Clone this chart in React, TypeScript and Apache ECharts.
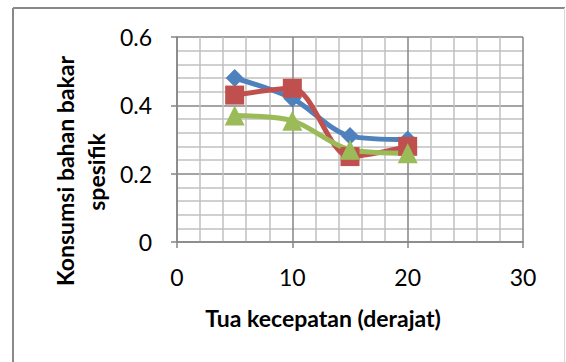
import React, { useEffect, useRef } from "react";
import * as echarts from "echarts";

const xValues = [5, 10, 15, 20];
const seriesBlue = [0.48, 0.42, 0.31, 0.3];
const seriesRed = [0.43, 0.45, 0.25, 0.28];
const seriesGreen = [0.37, 0.355, 0.27, 0.26];
const xTitle = "Tua kecepatan (derajat)";
const yTitleLines = ["Konsumsi bahan bakar", "spesifik"];

const FONT = "Lato, 'Liberation Sans', sans-serif";

export default function App() {
  const ref = useRef<HTMLDivElement>(null);
  useEffect(() => {
    if (!ref.current) return;
    const chart = echarts.init(ref.current, undefined, { renderer: "svg" });
    const pair = (vals: number[]) => xValues.map((x, i) => [x, vals[i]]);
    const mkSeries = (name: string, vals: number[], color: string, symbol: string, size: number) => ({
      name,
      type: "line",
      data: pair(vals),
      smooth: 0.3,
      symbol,
      symbolSize: size,
      lineStyle: { color, width: 5 },
      itemStyle: { color },
    });
    const axisCommon = {
      axisLine: { show: true, lineStyle: { color: "#868686", width: 1.5 } },
      axisTick: { show: true, length: 6, inside: false, lineStyle: { color: "#868686", width: 1.5 } },
      splitLine: { show: true, lineStyle: { color: "#868686", width: 1.5 } },
      minorTick: { show: false, splitNumber: 5 },
      minorSplitLine: { show: true, lineStyle: { color: "#c0c0c0", width: 1.5 } },
    };
    chart.setOption({
      animation: false,
      backgroundColor: "#ffffff",
      grid: { left: 177, top: 37, right: 43, bottom: 120 },
      xAxis: {
        type: "value",
        min: 0,
        max: 30,
        interval: 10,
        ...axisCommon,
        axisLabel: { color: "#000", fontSize: 23, fontFamily: FONT, margin: 23 },
      },
      yAxis: {
        type: "value",
        min: 0,
        max: 0.6,
        interval: 0.2,
        ...axisCommon,
        axisLabel: { color: "#000", fontSize: 23, fontFamily: FONT, margin: 25 },
      },
      series: [
        mkSeries("A", seriesBlue, "#4F81BD", "diamond", 18),
        mkSeries("B", seriesRed, "#C0504D", "rect", 19),
        mkSeries("C", seriesGreen, "#9BBB59", "triangle", 20),
      ],
      graphic: [
        { type: "line", shape: { x1: 13, y1: 8, x2: 13, y2: 362 }, style: { stroke: "#898989", lineWidth: 2 } },
        { type: "line", shape: { x1: 13, y1: 8, x2: 565, y2: 8 }, style: { stroke: "#898989", lineWidth: 2 } },
        { type: "line", shape: { x1: 564.5, y1: 8, x2: 564.5, y2: 362 }, style: { stroke: "#d9d9d9", lineWidth: 1 } },
        {
          type: "text",
          x: 323,
          y: 318,
          style: {
            text: xTitle,
            font: `bold 23px ${FONT}`,
            fill: "#000",
            align: "center",
            verticalAlign: "middle",
          },
        },
        {
          type: "text",
          x: 65,
          y: 171,
          rotation: Math.PI / 2,
          style: {
            text: yTitleLines[0],
            font: `bold 23px ${FONT}`,
            fill: "#000",
            align: "center",
            verticalAlign: "middle",
          },
        },
        {
          type: "text",
          x: 96,
          y: 172,
          rotation: Math.PI / 2,
          style: {
            text: yTitleLines[1],
            font: `bold 23px ${FONT}`,
            fill: "#000",
            align: "center",
            verticalAlign: "middle",
          },
        },
      ],
    });
    return () => chart.dispose();
  }, []);
  return <div ref={ref} style={{ position: "fixed", left: 0, top: 0, width: 566, height: 362 }} />;
}
